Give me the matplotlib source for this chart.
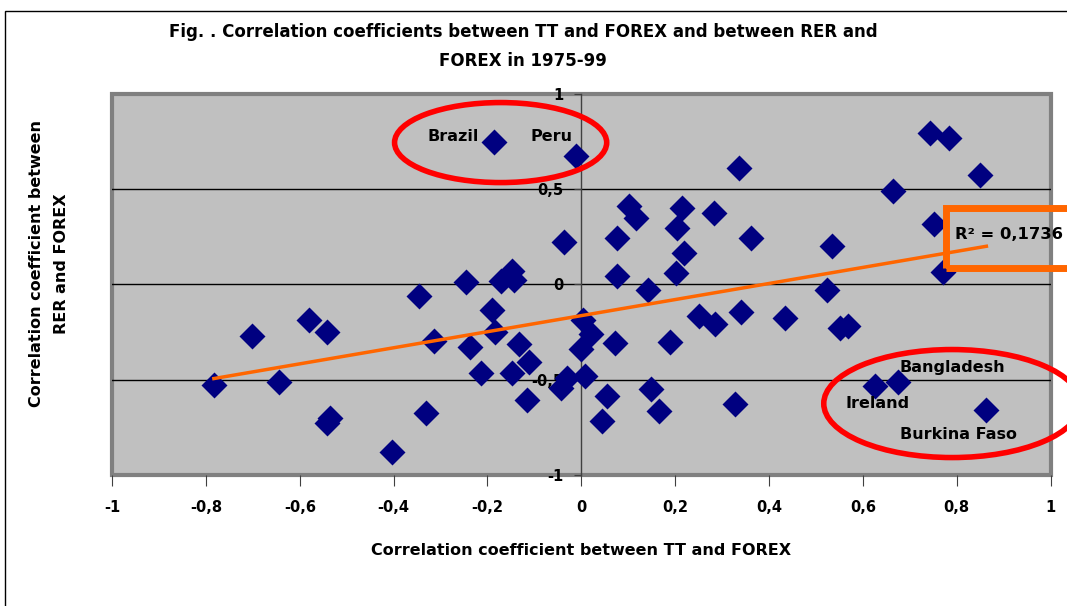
import numpy as np
import matplotlib
matplotlib.use("Agg")
import matplotlib.pyplot as plt
from matplotlib.patches import Ellipse, Rectangle
from matplotlib.ticker import FuncFormatter

# correlation TT vs FOREX (x) and RER vs FOREX (y)
tt_forex = [-0.186, -0.012, -0.038, -0.246, -0.172, -0.147, -0.144, -0.346,
            -0.580, -0.542, -0.701, -0.190, -0.183, -0.314, -0.238, -0.133,
            -0.112, -0.213, -0.148, 0.004, 0.020, 0.000, 0.007, -0.030,
            -0.044, -0.115, -0.783, -0.644, -0.541, -0.535, -0.332, -0.403,
            0.742, 0.783, 0.849, 0.336, 0.664, 0.101, 0.116, 0.214,
            0.203, 0.282, 0.075, 0.219, 0.362, 0.533, 0.751, 0.770,
            0.075, 0.201, 0.141, 0.524, 0.071, 0.188, 0.250, 0.284,
            0.341, 0.433, 0.552, 0.568, 0.055, 0.043, 0.149, 0.165,
            0.327, 0.625, 0.675, 0.863]
rer_forex = [0.749, 0.673, 0.222, 0.014, 0.017, 0.070, 0.026, -0.058,
             -0.184, -0.250, -0.268, -0.133, -0.248, -0.298, -0.326, -0.315,
             -0.408, -0.464, -0.464, -0.184, -0.258, -0.338, -0.481, -0.490,
             -0.542, -0.604, -0.530, -0.513, -0.726, -0.700, -0.673, -0.880,
             0.796, 0.770, 0.577, 0.612, 0.493, 0.411, 0.350, 0.402,
             0.294, 0.376, 0.245, 0.166, 0.245, 0.201, 0.319, 0.067,
             0.047, 0.061, -0.030, -0.030, -0.305, -0.303, -0.166, -0.210,
             -0.145, -0.178, -0.227, -0.219, -0.586, -0.716, -0.551, -0.665,
             -0.630, -0.534, -0.513, -0.660]

# labelled countries: name, x, y, alignment
country_names = ["Brazil", "Peru", "Bangladesh", "Ireland", "Burkina Faso"]
country_x = [-0.219, -0.108, 0.678, 0.563, 0.678]
country_y = [0.777, 0.777, -0.436, -0.625, -0.787]
country_ha = ["right", "left", "left", "left", "left"]

r2_text = "R\u00b2 = 0,1736"

FONT = "DejaVu Sans"
GRAY_BG = "#C0C0C0"
BORDER = "#808080"
NAVY = "#000080"
ORANGE = "#FF6600"

x = np.array(tt_forex)
y = np.array(rer_forex)

fig = plt.figure(figsize=(10.67, 6.06), dpi=100)
ax = fig.add_axes([0.105, 0.2162, 0.8797, 0.6287])

# outer chart frame (cut off at right/bottom)
fig.patches.append(Rectangle((5 / 1067, -0.05), 1.1, 1.05 - 11 / 606,
                             transform=fig.transFigure, fill=False,
                             edgecolor="black", linewidth=1))

ax.set_facecolor(GRAY_BG)
ax.set_xlim(-1, 1)
ax.set_ylim(-1, 1)

for side in ["top", "right", "bottom"]:
    ax.spines[side].set_visible(False)
ax.spines["left"].set_position(("data", 0))
ax.spines["left"].set_color("#404040")
ax.spines["left"].set_linewidth(1)
ax.add_patch(Rectangle((0, 0), 1, 1, transform=ax.transAxes, fill=False,
                       edgecolor=BORDER, linewidth=3, clip_on=False, zorder=1))

ax.set_xticks(np.arange(-1, 1.01, 0.2))
ax.set_yticks([-1, -0.5, 0, 0.5, 1])
comma = FuncFormatter(lambda v, p: ("%g" % (round(v, 1) + 0.0)).replace(".", ","))
ax.xaxis.set_major_formatter(comma)
ax.yaxis.set_major_formatter(comma)
ax.tick_params(axis="x", direction="out", length=8, color="#404040",
               pad=10, labelsize=10.5)
ax.tick_params(axis="y", direction="out", length=5, color="#404040",
               pad=8, labelsize=10.5)
for lab in ax.get_xticklabels() + ax.get_yticklabels():
    lab.set_fontweight("bold")
    lab.set_family(FONT)

for g in [-0.5, 0, 0.5]:
    ax.axhline(g, color="black", linewidth=1, zorder=1)

ax.scatter(x, y, marker="D", s=175, color=NAVY, zorder=3, linewidths=0)

# linear trend line over the data range
slope, intercept = np.polyfit(x, y, 1)
xs = np.array([x.min(), x.max()])
ax.plot(xs, slope * xs + intercept, color=ORANGE, linewidth=2.5, zorder=4)

for name, cx, cy, ha in zip(country_names, country_x, country_y, country_ha):
    ax.text(cx, cy, name, ha=ha, va="center", fontsize=11.5,
            fontweight="bold", family=FONT, zorder=5)

ax.add_patch(Ellipse((-0.172, 0.745), 0.452, 0.42, fill=False,
                     edgecolor="red", linewidth=4, zorder=5))
ax.add_patch(Ellipse((0.790, -0.625), 0.547, 0.567, fill=False,
                     edgecolor="red", linewidth=4, zorder=5, clip_on=False))
ax.add_patch(Rectangle((0.776, 0.089), 0.33, 0.315, fill=False,
                       edgecolor=ORANGE, linewidth=5, zorder=5, clip_on=False))
ax.text(0.796, 0.262, r2_text, ha="left", va="center", fontsize=11.8,
        fontweight="bold", family=FONT, zorder=6, clip_on=False)

fig.text(0.49, 0.948, "Fig. . Correlation coefficients between TT and FOREX and between RER and",
         ha="center", va="center", fontsize=12, fontweight="bold", family=FONT)
fig.text(0.49, 0.899, "FOREX in 1975-99", ha="center", va="center",
         fontsize=12, fontweight="bold", family=FONT)

fig.text(0.545, 0.092, "Correlation coefficient between TT and FOREX",
         ha="center", va="center", fontsize=11.5, fontweight="bold", family=FONT)
fig.text(0.046, 0.565, "Correlation coefficient between\nRER and FOREX",
         ha="center", va="center", rotation=90, fontsize=11.5,
         fontweight="bold", family=FONT, linespacing=1.9)

fig.savefig("out.png", dpi=100)
